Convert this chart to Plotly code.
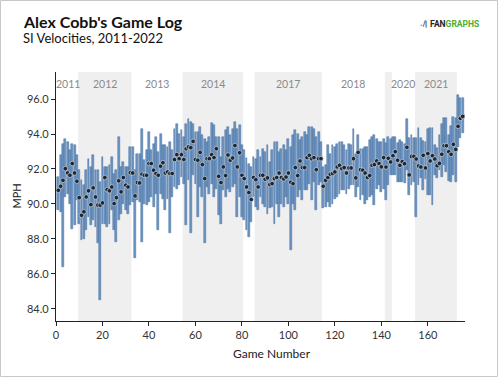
import plotly.graph_objects as go

games = list(range(1, 176))

hi = [
    91.54, 92.78, 93.45, 93.74, 93.55, 93.07, 93.45, 93.35, 92.78, 91.93,
    91.35, 91.07, 91.93, 92.59, 92.12, 92.78, 91.93, 91.93, 91.26, 92.69,
    92.12, 92.12, 92.21, 92.69, 91.74, 91.93, 93.83, 92.12, 92.40, 92.12,
    92.12, 93.26, 93.26, 91.93, 92.88, 92.88,
    94.31, 92.50, 93.07, 94.12, 93.07, 93.45, 93.83, 92.97, 94.02, 93.35,
    93.35, 93.26, 93.55, 93.07, 94.31, 94.59, 94.02, 94.21, 93.83, 94.59,
    94.88, 94.69, 94.59, 94.12, 94.12, 94.40, 93.93, 93.74, 93.55, 93.83,
    94.63, 94.50, 93.83, 93.83, 92.69, 93.83,
    94.21, 94.40, 93.93, 94.31, 94.69, 94.31, 94.50, 93.35, 93.07, 92.65,
    92.31, 92.12, 92.69, 92.59, 93.07, 92.69, 93.16, 92.97, 93.35, 92.40,
    93.07, 93.55, 93.55, 92.97, 93.16, 93.35, 93.07, 93.74, 93.26, 93.93,
    94.21, 94.02, 93.64, 93.83, 94.12, 93.93, 94.40,
    94.40, 94.31, 93.83, 94.12, 93.55, 92.12, 92.21, 93.35, 92.88, 93.35,
    93.26, 93.45, 93.55, 93.55, 93.35, 93.07, 93.45, 93.35, 94.31, 92.88,
    93.93, 93.16, 93.16, 93.26, 93.26, 93.64, 93.83, 93.93, 93.74, 93.55,
    93.55, 93.74,
    93.47, 93.81, 93.71, 93.85, 93.85, 93.47, 93.66, 93.56, 93.41, 94.86,
    93.75, 93.94, 93.75, 93.75, 94.32, 93.79, 93.60, 93.56, 94.29, 94.32,
    94.36, 93.37, 93.18, 93.94, 94.55, 94.93, 94.90, 93.94, 94.48, 94.95,
    94.90, 96.23, 96.08, 96.08,
]

lo = [
    89.64, 89.55, 86.40, 90.40, 90.59, 90.02, 88.59, 88.78, 90.21, 88.88,
    87.93, 88.02, 88.50, 89.26, 88.78, 89.07, 88.69, 87.74, 84.50, 88.88,
    88.88, 88.69, 88.88, 89.64, 88.50, 87.83, 89.07, 89.45, 90.02, 89.64,
    89.45, 89.93, 90.12, 86.88, 90.21, 90.12,
    87.83, 90.02, 89.93, 90.12, 90.40, 89.83, 90.59, 88.50, 90.59, 90.31,
    89.64, 90.31, 88.31, 90.40, 90.97, 90.88, 91.07, 91.54, 91.16, 88.78,
    91.35, 88.31, 91.64, 91.16, 89.26, 90.97, 90.40, 87.74, 90.97, 90.59,
    91.16, 90.40, 90.88, 89.35, 88.88, 90.78,
    90.40, 90.88, 90.69, 90.97, 91.16, 89.26, 90.40, 89.26, 89.07, 88.50,
    88.12, 88.97, 90.40, 89.83, 89.64, 90.40, 90.02, 89.83, 89.45, 89.74,
    89.83, 88.88, 90.02, 89.26, 90.02, 89.83, 90.40, 90.02, 87.35, 90.02,
    89.64, 90.40, 90.78, 90.21, 90.78, 90.78, 91.16,
    90.21, 91.26, 89.64, 91.07, 91.26, 89.74, 89.83, 90.12, 89.83, 90.02,
    90.31, 90.40, 90.59, 90.78, 90.78, 90.59, 90.88, 91.07, 91.07, 90.40,
    90.97, 90.21, 90.50, 90.02, 90.21, 90.40, 90.50, 89.93, 90.88, 91.07,
    90.69, 90.88,
    90.23, 91.09, 91.66, 91.66, 91.66, 91.28, 91.28, 91.28, 91.18, 91.94,
    90.51, 91.09, 91.28, 89.28, 91.09, 91.50, 90.80, 91.40, 90.51, 90.51,
    89.94, 91.66, 91.50, 91.94, 91.56, 92.23, 91.81, 91.31, 91.28, 91.66,
    91.28, 93.28, 93.75, 94.04,
]

avg = [
    90.78, 91.01, 91.35, 92.02, 91.77, 91.64, 92.31, 91.77, 91.30, 90.36,
    89.35, 89.55, 90.40, 90.75, 89.96, 90.92, 90.40, 89.93, 89.93, 90.06,
    91.51, 90.82, 90.75, 90.97, 90.02, 90.36, 91.32, 90.69, 91.51, 91.07,
    90.97, 91.79, 91.77, 90.46, 91.22, 91.20,
    91.70, 91.64, 91.64, 92.31, 92.31, 91.93, 91.74, 91.64, 92.16, 92.36,
    91.77, 91.83, 91.74, 91.74, 92.54, 92.82, 92.59, 92.82, 92.54, 93.16,
    93.26, 93.22, 93.58, 92.54, 92.50, 92.95, 92.25, 91.45, 92.59, 92.59,
    92.82, 92.65, 93.16, 91.58, 91.22, 92.12,
    91.62, 92.80, 92.50, 92.63, 93.34, 92.12, 92.93, 91.64, 91.45, 90.97,
    90.65, 90.25, 91.51, 91.39, 90.97, 91.64, 91.64, 91.41, 91.49, 91.11,
    91.16, 91.45, 91.51, 91.77, 91.51, 91.43, 91.54, 91.77, 91.24, 91.16,
    92.08, 91.62, 92.46, 92.08, 92.08, 92.65, 92.78,
    92.59, 92.65, 91.96, 92.59, 92.59, 91.01, 91.35, 91.51, 91.70, 91.74,
    91.83, 92.12, 92.21, 92.02, 92.08, 91.77, 92.06, 92.06, 92.59, 91.49,
    92.95, 91.96, 91.93, 91.77, 91.51, 91.62, 92.21, 92.25, 92.46, 92.31,
    92.12, 92.65,
    92.11, 92.61, 92.40, 92.76, 92.99, 92.50, 92.21, 92.42, 92.30, 93.24,
    91.66, 92.72, 92.72, 92.57, 92.17, 92.11, 92.78, 92.06, 92.88, 92.46,
    92.76, 92.57, 92.19, 92.32, 92.84, 93.33, 93.33, 92.99, 92.84, 93.41,
    93.12, 94.44, 94.90, 95.01,
]

# seasons: label, first game, last game, shaded band, label shown
season_labels = ["2011", "2012", "2013", "2014", "2016", "2017", "2018", "2019", "2020", "2021", "2022"]
season_first = [1, 10, 33, 55, 81, 86, 115, 142, 145, 155, 173]
season_last = [9, 32, 54, 80, 85, 114, 141, 144, 154, 172, 175]
season_shaded = [False, True, False, True, False, True, False, True, False, True, False]
season_show = [True, True, True, True, False, True, True, False, True, True, False]

y_ticks = [84.0, 86.0, 88.0, 90.0, 92.0, 94.0, 96.0]
x_ticks = [0, 20, 40, 60, 80, 100, 120, 140, 160]

FONT = "Lato"

fig = go.Figure()
fig.add_trace(go.Bar(
    x=games, y=[h - l for h, l in zip(hi, lo)], base=lo, width=0.8,
    marker=dict(color="#6c95c2", line=dict(color="#406d9f", width=0.5)),
    hoverinfo="skip", showlegend=False,
))
fig.add_trace(go.Scatter(
    x=games, y=avg, mode="markers",
    marker=dict(size=4.6, color="#1c2733", line=dict(color="#c9d4e2", width=0.7)),
    showlegend=False,
))

shapes = []
annotations = []
for lab, f, l, sh, show in zip(season_labels, season_first, season_last, season_shaded, season_show):
    x0, x1 = f - 0.5, l + 0.5
    if sh:
        shapes.append(dict(type="rect", xref="x", yref="paper", x0=x0, x1=x1, y0=0, y1=1,
                           fillcolor="#efefef", line=dict(width=0), layer="below"))
    if show:
        annotations.append(dict(x=(x0 + x1) / 2, y=0.952, xref="x", yref="paper", text=lab,
                                xanchor="center", yanchor="middle",
                                showarrow=False, font=dict(family=FONT, size=10.5, color="#8a8a8a")))

L, R, T, B = 56, 33, 72, 56
W, H = 498, 377
pw, ph = W - L - R, H - T - B

def px(xp):
    return (xp - L) / pw

def py(yp):
    return (H - B - yp) / ph

shapes.append(dict(type="rect", xref="paper", yref="paper",
                   x0=px(0.5), x1=px(W - 0.5), y0=py(H - 0.5), y1=py(0.5),
                   line=dict(color="#c8c8c8", width=1), fillcolor="rgba(0,0,0,0)"))

annotations += [
    dict(x=px(21), y=py(22), xref="paper", yref="paper", xanchor="left", yanchor="middle",
         text="<b>Alex Cobb's Game Log</b>", showarrow=False,
         font=dict(family=FONT, size=16, color="#111")),
    dict(x=px(21), y=py(37.5), xref="paper", yref="paper", xanchor="left", yanchor="middle",
         text="SI Velocities, 2011-2022", showarrow=False,
         font=dict(family=FONT, size=13, color="#111")),
    dict(x=px(428.5), y=py(23.5), xref="paper", yref="paper", xanchor="right", yanchor="middle",
         text="<b><span style='color:#5bb030'>.</span>⧸|</b>", showarrow=False,
         font=dict(family="DejaVu Sans", size=7, color="#222")),
    dict(x=px(481), y=py(23.5), xref="paper", yref="paper", xanchor="right", yanchor="middle",
         text="<b><span style='color:#222'>FAN</span><span style='color:#4caf2a'>GRAPHS</span></b>",
         showarrow=False, font=dict(family="Roboto", size=8.5, color="#222")),
    dict(x=px(16), y=0.5, xref="paper", yref="paper", text="MPH", textangle=-90,
         xanchor="center", yanchor="middle",
         showarrow=False, font=dict(family=FONT, size=11, color="#222")),
    dict(x=px(272), y=py(353), xref="paper", yref="paper", text="Game Number",
         xanchor="center", yanchor="middle",
         showarrow=False, font=dict(family=FONT, size=12, color="#222")),
]

fig.update_layout(
    width=W, height=H,
    margin=dict(l=L, r=R, t=T, b=B),
    paper_bgcolor="white", plot_bgcolor="white",
    shapes=shapes, annotations=annotations,
    bargap=0, showlegend=False,
    font=dict(family=FONT, size=11, color="#333"),
)
fig.update_xaxes(range=[0, 176], tickvals=x_ticks, ticks="outside", ticklen=4,
                 tickcolor="#222", showline=True, linecolor="#222", linewidth=1.2,
                 showgrid=False, zeroline=False, tickfont=dict(family=FONT, size=11, color="#333"))
fig.update_yaxes(range=[83.3, 97.55], tickvals=y_ticks, tickformat=".1f", ticks="outside",
                 ticklen=4, tickcolor="#222", showline=True, linecolor="#222", linewidth=1.2,
                 showgrid=False, zeroline=False, tickfont=dict(family=FONT, size=11, color="#333"))

fig.write_html("out.html", config={"displayModeBar": False},
               post_script="document.body.style.margin='0';document.body.style.overflow='hidden';")
